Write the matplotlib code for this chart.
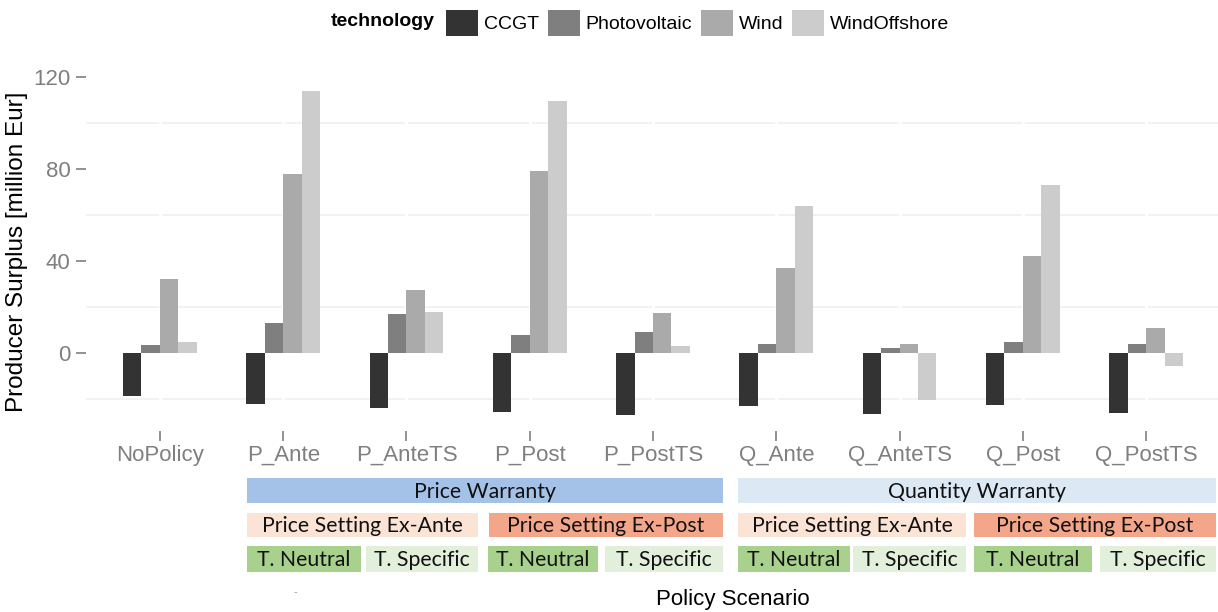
import matplotlib
matplotlib.use("Agg")
import matplotlib.pyplot as plt
import numpy as np
from matplotlib.patches import Rectangle, Patch

scenarios = ["NoPolicy", "P_Ante", "P_AnteTS", "P_Post", "P_PostTS",
             "Q_Ante", "Q_AnteTS", "Q_Post", "Q_PostTS"]
technologies = ["CCGT", "Photovoltaic", "Wind", "WindOffshore"]
ccgt = [-18.7, -22.0, -24.0, -25.7, -27.0, -23.0, -26.5, -22.6, -26.0]
photovoltaic = [3.5, 13.0, 17.0, 8.0, 9.0, 4.0, 2.0, 5.0, 4.0]
wind = [32.0, 78.0, 27.5, 79.0, 17.5, 37.0, 4.0, 42.0, 11.0]
wind_offshore = [4.8, 114.0, 18.0, 109.5, 3.0, 64.0, -20.5, 73.0, -5.5]
yticks = [0, 40, 80, 120]

series = [ccgt, photovoltaic, wind, wind_offshore]
colors = ["#333333", "#7f7f7f", "#aaaaaa", "#cccccc"]

W, H = 1218, 612
fig = plt.figure(figsize=(W / 100, H / 100), dpi=100)
plt.rcParams["font.family"] = ["Liberation Sans", "DejaVu Sans"]

def fx(px):
    return px / W

def fy(py):
    return 1 - py / H

ax_left, ax_right = 86, 1220
ax_top, ax_bot = 72.4, 431.2
ax = fig.add_axes([fx(ax_left), fy(ax_bot), (ax_right - ax_left) / W, (ax_bot - ax_top) / H])

x = np.arange(len(scenarios))
group_w = 0.6
bw = group_w / len(technologies)
for i, (vals, c, name) in enumerate(zip(series, colors, technologies)):
    ax.bar(x - group_w / 2 + bw * (i + 0.5), vals, width=bw, color=c, zorder=3, label=name)

ax.set_xlim(-0.6, len(scenarios) - 1 + 0.6)
ax.set_ylim(-34, 122)
for yv in [-20, 20, 60, 100]:
    ax.axhline(yv, color="#efefef", lw=1.1, zorder=1)
for xv in x:
    ax.axvline(xv, color="white", lw=2.0, zorder=2)

ax.set_yticks(yticks)
ax.set_yticklabels([str(v) for v in yticks])
ax.set_xticks(x)
ax.set_xticklabels(scenarios)
ax.tick_params(axis="both", colors="#7f7f7f", labelcolor="#7f7f7f", labelsize=16,
               length=7, width=1.2)
ax.tick_params(axis="x", pad=3)
ax.tick_params(axis="y", pad=4)
for s in ax.spines.values():
    s.set_visible(False)
ax.set_ylabel("Producer Surplus [million Eur]", fontsize=17.5, color="black", labelpad=4)

# Legend
fig.text(fx(331), fy(22), "technology", fontsize=14, fontweight="bold", va="center", ha="left")
handles = [Patch(facecolor=c, edgecolor="none", label=t) for c, t in zip(colors, technologies)]
fig.legend(handles=handles, loc="center left", bbox_to_anchor=(fx(446), fy(23)), ncol=4,
           frameon=False, fontsize=14, handlelength=1.65, handleheight=1.7,
           handletextpad=0.3, columnspacing=0.45, borderaxespad=0, borderpad=0)

# Annotation boxes
box_font = ["Lato", "DejaVu Sans"]
boxes = [
    (247, 723, 478, 503, "#a4c2e8", "Price Warranty"),
    (738, 1216, 478, 503, "#dde8f5", "Quantity Warranty"),
    (247, 478, 513, 537, "#fbe3d6", "Price Setting Ex-Ante"),
    (489, 723, 513, 537, "#f4a68a", "Price Setting Ex-Post"),
    (738, 966, 513, 537, "#fbe3d6", "Price Setting Ex-Ante"),
    (974, 1216, 513, 537, "#f4a68a", "Price Setting Ex-Post"),
    (247, 361, 546, 572, "#a9d18e", "T. Neutral"),
    (366, 478, 546, 572, "#e2efda", "T. Specific"),
    (488, 598, 546, 572, "#a9d18e", "T. Neutral"),
    (605, 723, 546, 572, "#e2efda", "T. Specific"),
    (738, 850, 546, 572, "#a9d18e", "T. Neutral"),
    (853, 966, 546, 572, "#e2efda", "T. Specific"),
    (974, 1092, 546, 572, "#a9d18e", "T. Neutral"),
    (1100, 1216, 546, 572, "#e2efda", "T. Specific"),
]
for x0, x1, y0, y1, c, t in boxes:
    fig.add_artist(Rectangle((fx(x0), fy(y1)), (x1 - x0) / W, (y1 - y0) / H,
                             transform=fig.transFigure, facecolor=c, edgecolor="none"))
    fig.text(fx((x0 + x1) / 2), fy((y0 + y1) / 2 + 1), t, fontsize=15.3, family=box_font,
             ha="center", va="center", color="#111111")

fig.text(fx(295), fy(592), "-", fontsize=8, color="#999999", ha="center", va="center")
fig.text(fx(733), fy(600), "Policy Scenario", fontsize=16, ha="center", va="center")

fig.savefig("out.png", dpi=100)
